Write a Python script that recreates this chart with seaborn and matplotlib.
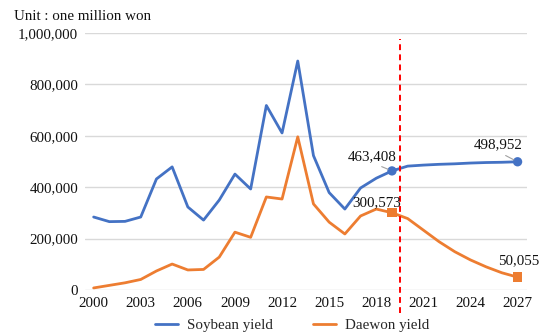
import numpy as np
import pandas as pd
import matplotlib
matplotlib.use("Agg")
import matplotlib.pyplot as plt
import seaborn as sns

years = list(range(2000, 2028))
soybean = [284000, 266000, 267000, 284000, 432000, 479000, 323000, 272000, 350000, 451000,
           393000, 718000, 611000, 891000, 523000, 379000, 315000, 397000, 435000, 463408,
           482000, 486000, 489000, 491000, 494000, 496000, 497000, 498952]
daewon = [8000, 18000, 28000, 41000, 74000, 101000, 78000, 80000, 128000, 225000,
          205000, 362000, 354000, 596000, 335000, 264000, 218000, 288000, 315000, 300573,
          278000, 233000, 188000, 149000, 117000, 90000, 67000, 50055]
series_names = ["Soybean yield", "Daewon yield"]
xtick_years = list(range(2000, 2028, 3))
ytick_values = [0, 200000, 400000, 600000, 800000, 1000000]
marker_years = [2019, 2027]
forecast_split = 2019.5
unit_label = "Unit : one million won"

blue = "#4472C4"
orange = "#ED7D31"

sns.set_theme(style="white")
plt.rcParams["font.family"] = ["Liberation Serif", "DejaVu Serif"]
fs = 10.8

df = pd.DataFrame({
    "year": years * 2,
    "value": soybean + daewon,
    "series": [series_names[0]] * len(years) + [series_names[1]] * len(years),
})

fig = plt.figure(figsize=(5.47, 3.34), dpi=100)
ax = fig.add_axes([85 / 547, 1 - 290 / 334, (527 - 85) / 547, (290 - 33) / 334])

sns.lineplot(data=df, x="year", y="value", hue="series",
             palette=[blue, orange], linewidth=2.0, ax=ax, legend=True)

# markers at 2019 and 2027
for vals, col, mk, sz in [(soybean, blue, "o", 45), (daewon, orange, "s", 45)]:
    mx = list(marker_years)
    my = [vals[years.index(y)] for y in marker_years]
    ax.scatter(mx, my, color=col, marker=mk, s=sz, zorder=5, edgecolors="none")

ax.set_xlim(1999.45, 2027.6)
ax.set_ylim(0, 1000000)
ax.set_xticks(xtick_years)
ax.set_xticklabels([str(y) for y in xtick_years], fontsize=fs)
ax.set_yticks(ytick_values)
ax.set_yticklabels([f"{v:,}" for v in ytick_values], fontsize=fs)
ax.tick_params(axis="both", length=0, pad=5, colors="#111111")
ax.set_xlabel("")
ax.set_ylabel("")
ax.grid(axis="y", color="#d9d9d9", linewidth=1.0)
ax.grid(axis="x", visible=False)
for s in ax.spines.values():
    s.set_visible(False)

ax.axvline(forecast_split, ymin=-0.09, ymax=0.977, color="#ff0000", linestyle=(0, (3, 2.2)),
           linewidth=1.4, clip_on=False, zorder=6)

# annotations
def ann(x, val, dx, dy, leader):
    kw = dict(textcoords="offset points", ha="center", va="center", fontsize=fs,
              color="#111111", zorder=7)
    if leader:
        kw["arrowprops"] = dict(arrowstyle="-", color="#a0a0a0", lw=0.8,
                                shrinkA=1, shrinkB=3, relpos=(0.5, 0.0))
    ax.annotate(f"{val:,}", xy=(x, val), xytext=(dx, dy), **kw)

ann(2019, soybean[years.index(2019)], -14, 10.5, True)
ann(2027, soybean[years.index(2027)], -14, 12, True)
ann(2019, daewon[years.index(2019)], -11, 7, False)
ann(2027, daewon[years.index(2027)], 1, 11.5, False)

fig.text(14 / 547, 1 - 17 / 334, unit_label, fontsize=fs, ha="left", va="center", color="#111111")

handles, labels = ax.get_legend_handles_labels()
ax.legend_.remove()
fig.legend(handles, labels, loc="center", bbox_to_anchor=(292 / 547, 1 - 325 / 334),
           ncol=2, frameon=False, fontsize=fs, handlelength=1.5, handletextpad=0.6,
           columnspacing=2.7, borderaxespad=0)

fig.savefig("out.png", dpi=100)
